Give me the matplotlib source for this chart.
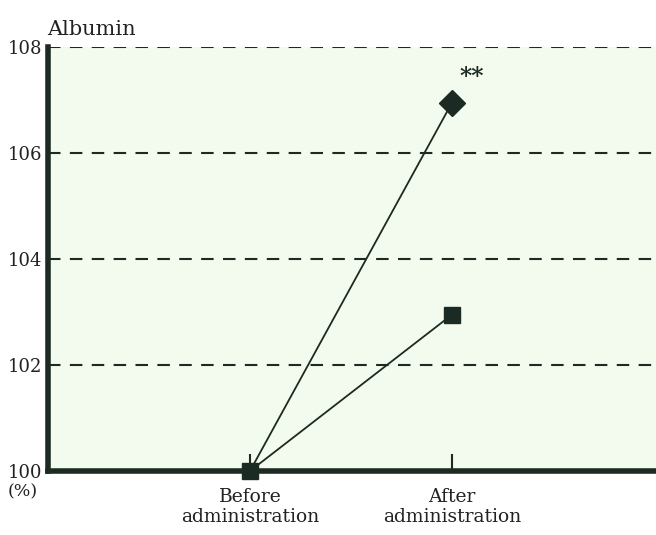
import matplotlib
matplotlib.use("Agg")
import matplotlib.pyplot as plt

categories = ["Before\nadministration", "After\nadministration"]
diamond_values = [100.0, 106.95]
square_values = [100.0, 102.95]
yticks = [100, 102, 104, 106, 108]
grid_levels = [102, 104, 106, 108]

plt.rcParams['font.family'] = ['DejaVu Serif']
dark = "#1b2a22"

fig = plt.figure(figsize=(6.56, 5.35), dpi=100)
ax = fig.add_axes([0.0732, 0.1196, 0.9268, 0.7925])
ax.set_facecolor("#f3fbef")

x = [1, 2]
for g in grid_levels:
    ax.axhline(g, color=dark, lw=1.5, ls=(0, (6, 4.5)), zorder=1)

ax.plot(x, diamond_values, color=dark, lw=1.3, marker="D", ms=13, markevery=[1], zorder=3, clip_on=False)
ax.plot(x, square_values, color=dark, lw=1.3, marker="s", ms=12, zorder=3, clip_on=False)

ax.annotate("**", xy=(x[1], diamond_values[1]), xytext=(14, 10), textcoords="offset points",
            ha="center", va="bottom", fontsize=17, fontweight="bold", color=dark)

ax.set_xlim(0, 3.01)
ax.set_ylim(100, 108)
ax.set_yticks(yticks)
ax.set_yticklabels([str(t) for t in yticks], fontsize=13, color="#222222")
ax.set_xticks(x)
ax.set_xticklabels(categories, fontsize=13.5, color="#222222", linespacing=1.15)
ax.tick_params(axis="x", direction="in", length=12, width=1.5, color=dark, pad=12)
ax.tick_params(axis="y", direction="out", length=0, width=1.5, color=dark, pad=4)

for s in ["top", "right"]:
    ax.spines[s].set_visible(False)
ax.spines["left"].set_linewidth(4)
ax.spines["bottom"].set_linewidth(4)
ax.spines["left"].set_color(dark)
ax.spines["bottom"].set_color(dark)

fig.text(0.072, 0.945, "Albumin", fontsize=15, color="#222222", ha="left", va="center")
fig.text(0.012, 0.08, "(%)", fontsize=12.5, color="#222222", ha="left", va="center")

fig.savefig("out.png", dpi=100, facecolor="white")
